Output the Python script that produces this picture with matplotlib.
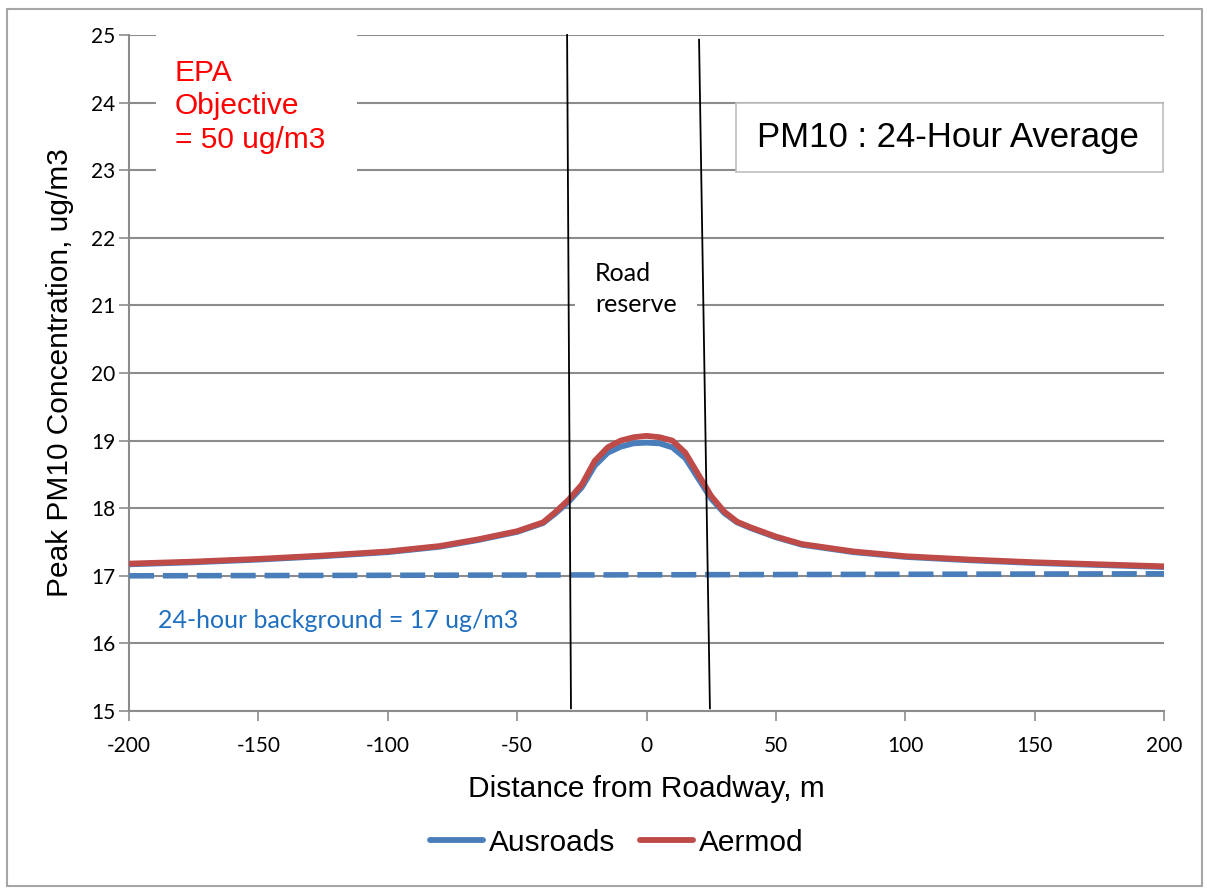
import matplotlib
matplotlib.use("Agg")
import matplotlib.pyplot as plt
from matplotlib.patches import Rectangle

# ---- data ----
distance = [-200, -175, -150, -125, -100, -80, -65, -50, -40, -35, -30, -25, -20, -15, -10, -5, 0,
            5, 10, 15, 20, 25, 30, 35, 40, 50, 60, 80, 100, 125, 150, 175, 200]
ausroads = [17.17, 17.20, 17.24, 17.29, 17.35, 17.43, 17.53, 17.65, 17.78, 17.93, 18.10, 18.31, 18.63, 18.82, 18.91, 18.96, 18.97,
            18.96, 18.90, 18.74, 18.44, 18.14, 17.93, 17.79, 17.71, 17.57, 17.46, 17.35, 17.28, 17.23, 17.19, 17.16, 17.13]
aermod = [17.18, 17.21, 17.25, 17.30, 17.36, 17.44, 17.54, 17.66, 17.79, 17.95, 18.13, 18.35, 18.70, 18.90, 19.00, 19.05, 19.07,
          19.05, 19.00, 18.82, 18.50, 18.18, 17.95, 17.80, 17.72, 17.58, 17.47, 17.36, 17.29, 17.24, 17.20, 17.17, 17.14]
background_x = [-200, 200]
background_y = [17.0, 17.03]
road_left_x = [-30.7, -29.2]
road_left_y = [25.0, 15.04]
road_right_x = [20.3, 24.5]
road_right_y = [24.93, 15.04]
series_labels = ["Ausroads", "Aermod"]
xticks = [-200, -150, -100, -50, 0, 50, 100, 150, 200]
yticks = [15, 16, 17, 18, 19, 20, 21, 22, 23, 24, 25]

BLUE = "#4A7EBB"
RED = "#BE4B48"
GRID = "#8C8C8C"
CAL = ["Lato", "DejaVu Sans"]
ARIAL = ["Liberation Sans", "DejaVu Sans"]

fig = plt.figure(figsize=(12.07, 8.88), dpi=100)
fig.patches.append(Rectangle((0.006, 0.002), 0.99, 0.988, transform=fig.transFigure,
                             fill=False, edgecolor="#A6A6A6", linewidth=1.5))
ax = fig.add_axes([0.1069, 0.1993, 0.8575, 0.7613])

ax.set_xlim(-200, 200)
ax.set_ylim(15, 25)
ax.set_xticks(xticks)
ax.set_yticks(yticks)
ax.set_xticklabels([str(v) for v in xticks], fontfamily=CAL, fontsize=15)
ax.set_yticklabels([str(v) for v in yticks], fontfamily=CAL, fontsize=15)
ax.tick_params(axis="both", direction="out", length=7, width=1.2, color=GRID)
ax.tick_params(axis="x", pad=11)
ax.tick_params(axis="y", pad=3)
ax.grid(axis="y", color=GRID, linewidth=1.5)
ax.set_axisbelow(True)
for s in ["top", "right"]:
    ax.spines[s].set_visible(False)
for s in ["left", "bottom"]:
    ax.spines[s].set_color(GRID)
    ax.spines[s].set_linewidth(1.5)

# background line
ax.plot(background_x, background_y, color=BLUE, linewidth=4, dashes=(4.5, 1.6), zorder=3)

# series
ax.plot(distance, ausroads, color=BLUE, linewidth=4.2, solid_capstyle="round",
        solid_joinstyle="round", label=series_labels[0], zorder=4)
ax.plot(distance, aermod, color=RED, linewidth=4.2, solid_capstyle="round",
        solid_joinstyle="round", label=series_labels[1], zorder=5)

# road reserve lines
ax.plot(road_left_x, road_left_y, color="black", linewidth=1.3, zorder=6, clip_on=False)
ax.plot(road_right_x, road_right_y, color="black", linewidth=1.3, zorder=6, clip_on=False)

# EPA text with white box
ax.add_patch(Rectangle((0.026, 0.7825), 0.194, 0.2175, transform=ax.transAxes,
                       facecolor="white", edgecolor="none", zorder=2))
ax.text(0.0444, 0.965, "EPA\nObjective\n= 50 ug/m3", transform=ax.transAxes, color="#FF0000",
        fontsize=21.5, fontfamily=ARIAL, va="top", ha="left", linespacing=1.25, zorder=7)

# Road reserve text with white box
ax.add_patch(Rectangle((0.431, 0.571), 0.118, 0.1036, transform=ax.transAxes,
                       facecolor="white", edgecolor="none", zorder=2))
ax.text(0.450, 0.6245, "Road\nreserve", transform=ax.transAxes, color="black",
        fontsize=18, fontfamily=CAL, va="center", ha="left", linespacing=1.45, zorder=7)

# Background label
ax.text(0.028, 0.1346, "24-hour background = 17 ug/m3", transform=ax.transAxes, color="#1F6FC0",
        fontsize=18, fontfamily=CAL, va="center", ha="left", zorder=7)

# Title box
ax.add_patch(Rectangle((0.5865, 0.7973), 0.4125, 0.1021, transform=ax.transAxes,
                       facecolor="white", edgecolor="#BFBFBF", linewidth=1.2, zorder=6))
ax.text(0.7908, 0.849, "PM10 : 24-Hour Average", transform=ax.transAxes, color="black",
        fontsize=25, fontfamily=ARIAL, va="center", ha="center", zorder=7)

ax.set_xlabel("Distance from Roadway, m", fontsize=21.5, fontfamily=ARIAL, labelpad=14)
ax.set_ylabel("Peak PM10 Concentration, ug/m3", fontsize=21.5, fontfamily=ARIAL, labelpad=12)

leg = fig.legend(loc="center", bbox_to_anchor=(0.511, 0.051), ncol=2, frameon=False,
                 prop={"family": ARIAL, "size": 21.5}, handlelength=1.75, handletextpad=0.2,
                 columnspacing=0.85)

fig.savefig("out.png", dpi=100)
